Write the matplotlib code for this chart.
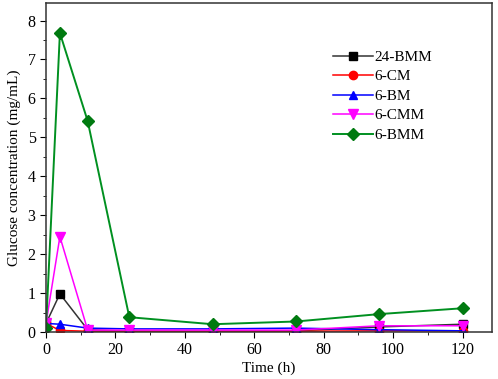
import numpy as np
import matplotlib.pyplot as plt
from matplotlib.ticker import MultipleLocator

# Sampling times (h)
time_h = [0, 4, 12, 24, 48, 72, 96, 120]

# Glucose concentration (mg/mL) per sample
bmm_24 = [0.22, 0.98, 0.06, 0.02, 0.02, 0.03, 0.13, 0.20]
cm_6 = [0.22, 0.04, 0.02, 0.02, 0.02, 0.02, 0.03, 0.03]
bm_6 = [0.22, 0.20, 0.10, 0.08, 0.08, 0.10, 0.06, 0.03]
cmm_6 = [0.22, 2.45, 0.05, 0.05, 0.05, 0.05, 0.16, 0.16]
bmm_6 = [0.10, 7.68, 5.42, 0.38, 0.20, 0.27, 0.46, 0.61]

plt.rcParams["font.family"] = ["Liberation Serif", "DejaVu Serif"]

fig = plt.figure(figsize=(4.98, 3.79), dpi=100)
ax = fig.add_axes([0.0924, 0.124, 0.8956, 0.868])

ax.plot(time_h, bmm_24, color="#333333", marker="s", ms=6, lw=1.1,
        mfc="black", mec="black", label="24-BMM")
ax.plot(time_h, cm_6, color="red", marker="o", ms=6, lw=1.1, label="6-CM")
ax.plot(time_h, bm_6, color="blue", marker="^", ms=6, lw=1.1, label="6-BM")
ax.plot(time_h, cmm_6, color="magenta", marker="v", ms=7, lw=1.1, label="6-CMM")
ax.plot(time_h, bmm_6, color="#009020", marker="D", ms=6.5, lw=1.4,
        mfc="#007a10", mec="#007a10", label="6-BMM")

ax.set_xlim(0, 128.5)
ax.set_ylim(0, 8.45)
ax.xaxis.set_major_locator(MultipleLocator(20))
ax.xaxis.set_minor_locator(MultipleLocator(10))
ax.yaxis.set_major_locator(MultipleLocator(1))
ax.yaxis.set_minor_locator(MultipleLocator(0.5))
ax.tick_params(which="major", direction="out", length=4, labelsize=11.5)
ax.tick_params(which="minor", direction="out", length=2.5)

for s in ax.spines.values():
    s.set_linewidth(1.1)
    s.set_color("#333333")

ax.set_xlabel("Time (h)", fontsize=11, labelpad=2)
ax.set_ylabel("Glucose concentration (mg/mL)", fontsize=11, labelpad=5)

ax.legend(loc="upper left", bbox_to_anchor=(0.63, 0.875), frameon=False,
          fontsize=11, handlelength=2.6, handletextpad=0.1,
          labelspacing=0.38, borderaxespad=0)

fig.savefig("out.png", dpi=100)
